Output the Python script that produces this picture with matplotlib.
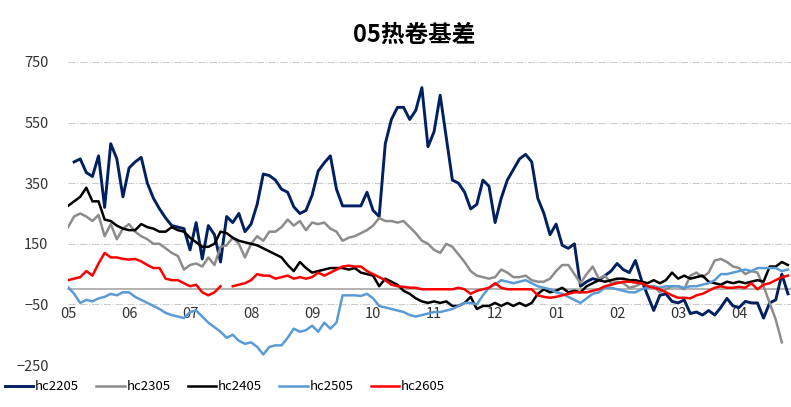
import matplotlib
matplotlib.use('Agg')
import numpy as np
import matplotlib.pyplot as plt

plt.rcParams['font.family'] = ['Noto Sans CJK SC', 'DejaVu Sans']

# month labels (May .. next April), data sampled every 0.1 month
month_labels = ['05', '06', '07', '08', '09', '10', '11', '12', '01', '02', '03', '04']
nan = np.nan

hc2205 = [nan, 420, 430, 385, 372, 440, 270, 480, 430, 305,
          400, 420, 435, 350, 300, 265, 235, 210, 205, 200,
          130, 220, 100, 210, 180, 90, 240, 220, 250, 190,
          215, 280, 380, 375, 360, 330, 320, 272, 250, 260,
          310, 390, 417, 440, 330, 275, 275, 275, 275, 320,
          260, 240, 480, 560, 600, 600, 560, 590, 665, 470,
          520, 640, 500, 360, 350, 320, 265, 280, 360, 340,
          220, 300, 360, 395, 430, 445, 420, 300, 250, 180,
          215, 145, 135, 150, 10, 25, 35, 30, 45, 60,
          85, 65, 55, 95, 30, -20, -70, -20, -15, -40,
          -45, -35, -80, -75, -85, -70, -85, -60, -30, -55,
          -60, -40, -45, -45, -95, -45, -35, 50, -15]

hc2305 = [205, 240, 250, 240, 225, 245, 175, 215, 165, 200,
          215, 190, 175, 165, 150, 150, 135, 120, 110, 65,
          80, 85, 75, 105, 80, 140, 145, 170, 150, 105,
          150, 175, 160, 190, 190, 205, 230, 210, 225, 195,
          220, 215, 220, 200, 190, 160, 170, 175, 185, 195,
          210, 235, 225, 225, 220, 225, 205, 185, 160, 150,
          130, 120, 150, 140, 115, 90, 60, 45, 40, 35,
          40, 65, 55, 40, 40, 45, 30, 25, 25, 35,
          60, 80, 80, 50, 20, 50, 75, 35, 45, 20,
          25, 20, 5, 10, 20, 10, 10, -10, 0, 10,
          10, 0, 45, 55, 40, 55, 95, 100, 90, 75,
          70, 50, 60, 55, 10, -45, -100, -175, nan]

hc2405 = [275, 290, 305, 335, 290, 290, 230, 225, 210, 200,
          195, 195, 215, 205, 200, 190, 190, 205, 195, 190,
          170, 155, 140, 140, 150, 190, 185, 170, 160, 155,
          150, 145, 135, 125, 115, 105, 80, 60, 90, 70,
          55, 60, 65, 70, 70, 70, 65, 70, 55, 50,
          45, 10, 35, 25, 15, -5, -15, -30, -40, -45,
          -40, -45, -40, -55, -55, -45, -25, -65, -55, -55,
          -45, -55, -45, -55, -45, -55, -45, -15, 0, -10,
          -5, 5, -10, -5, -10, 10, 20, 30, 25, 30,
          35, 35, 30, 30, 25, 20, 30, 20, 30, 55,
          35, 45, 35, 40, 45, 25, 20, 15, 25, 20,
          25, 20, 25, 30, 25, 75, 75, 90, 80]

hc2505 = [7, -15, -45, -35, -40, -30, -25, -15, -20, -10,
          -10, -25, -35, -45, -55, -65, -78, -85, -90, -95,
          -75, -70, -90, -110, -125, -140, -160, -150, -170, -180,
          -175, -190, -215, -190, -185, -185, -160, -130, -140, -135,
          -120, -140, -110, -130, -110, -20, -20, -20, -22, -15,
          -30, -55, -60, -65, -70, -75, -85, -90, -85, -80,
          -75, -75, -70, -65, -55, -45, -45, -50, -20, 5,
          15, 30, 25, 20, 25, 30, 20, 10, 5, 0,
          -10, -15, -25, -35, -45, -30, -15, -10, 5, 5,
          0, -5, -10, -10, 0, 5, 10, 5, 10, 10,
          10, 5, 10, 10, 15, 20, 30, 50, 50, 55,
          60, 65, 60, 70, 70, 70, 70, 60, 65]

hc2605 = [30, 35, 40, 60, 45, 85, 120, 105, 105, 100,
          98, 100, 92, 80, 70, 70, 35, 30, 30, 20,
          10, 15, -10, -20, -10, 10, nan, 10, 15, 20,
          30, 50, 45, 45, 35, 40, 45, 35, 40, 35,
          40, 55, 45, 55, 65, 75, 78, 75, 75, 60,
          50, 40, 30, 15, 10, 8, 5, 5, 0, 0,
          0, 0, 0, 0, 5, 0, -15, -5, 0, 5,
          20, 5, 0, 0, 0, 0, 0, -20, -25, -28,
          -25, -20, -15, -10, -10, -10, -5, 0, 10, 15,
          20, 25, 25, 22, 20, 10, 5, 0, -10, -20,
          -28, -28, -30, -20, -15, -5, 5, 10, 5, 5,
          8, 5, 20, 0, 15, 20, 30, 40, 45]

series = [('hc2205', hc2205, '#002060', 2.1),
          ('hc2305', hc2305, '#8c8c8c', 1.8),
          ('hc2405', hc2405, '#000000', 1.8),
          ('hc2505', hc2505, '#5b9bd5', 1.8),
          ('hc2605', hc2605, '#ff0000', 1.8)]

t = np.arange(len(hc2205)) * 0.1

fig = plt.figure(figsize=(7.91, 4.07), dpi=100)
ax = fig.add_axes([0.086, 0.103, 0.914, 0.745])

for name, vals, color, lw in series:
    ax.plot(t, vals, color=color, lw=lw, label=name)

ax.set_ylim(-250, 750)
ax.set_yticks([-250, -50, 150, 350, 550, 750])
ax.set_xlim(0, 11.85)
ax.set_xticks(range(12))
ax.set_xticklabels(month_labels)
ax.grid(axis='y', color='#cccccc', linestyle='-.', linewidth=0.8)
ax.set_axisbelow(True)

for s in ['top', 'right', 'left']:
    ax.spines[s].set_visible(False)
ax.spines['bottom'].set_position(('data', 0))
ax.spines['bottom'].set_color('#a6a6a6')
ax.spines['bottom'].set_linewidth(1.2)
ax.spines['bottom'].set_zorder(1)

ax.tick_params(axis='y', length=0, pad=14, labelsize=10.5, labelcolor='#333333')
ax.tick_params(axis='x', length=0, pad=13, labelsize=10.5, labelcolor='#333333')

fig.suptitle('05热卷基差', x=0.523, y=0.945, fontsize=17, fontweight='bold')

fig.legend(loc='center left', bbox_to_anchor=(-0.009, 0.05), ncol=5, frameon=False,
           fontsize=9.5, handlelength=2.15, columnspacing=1.3, handletextpad=0.15)

fig.savefig('out.png', dpi=100)
